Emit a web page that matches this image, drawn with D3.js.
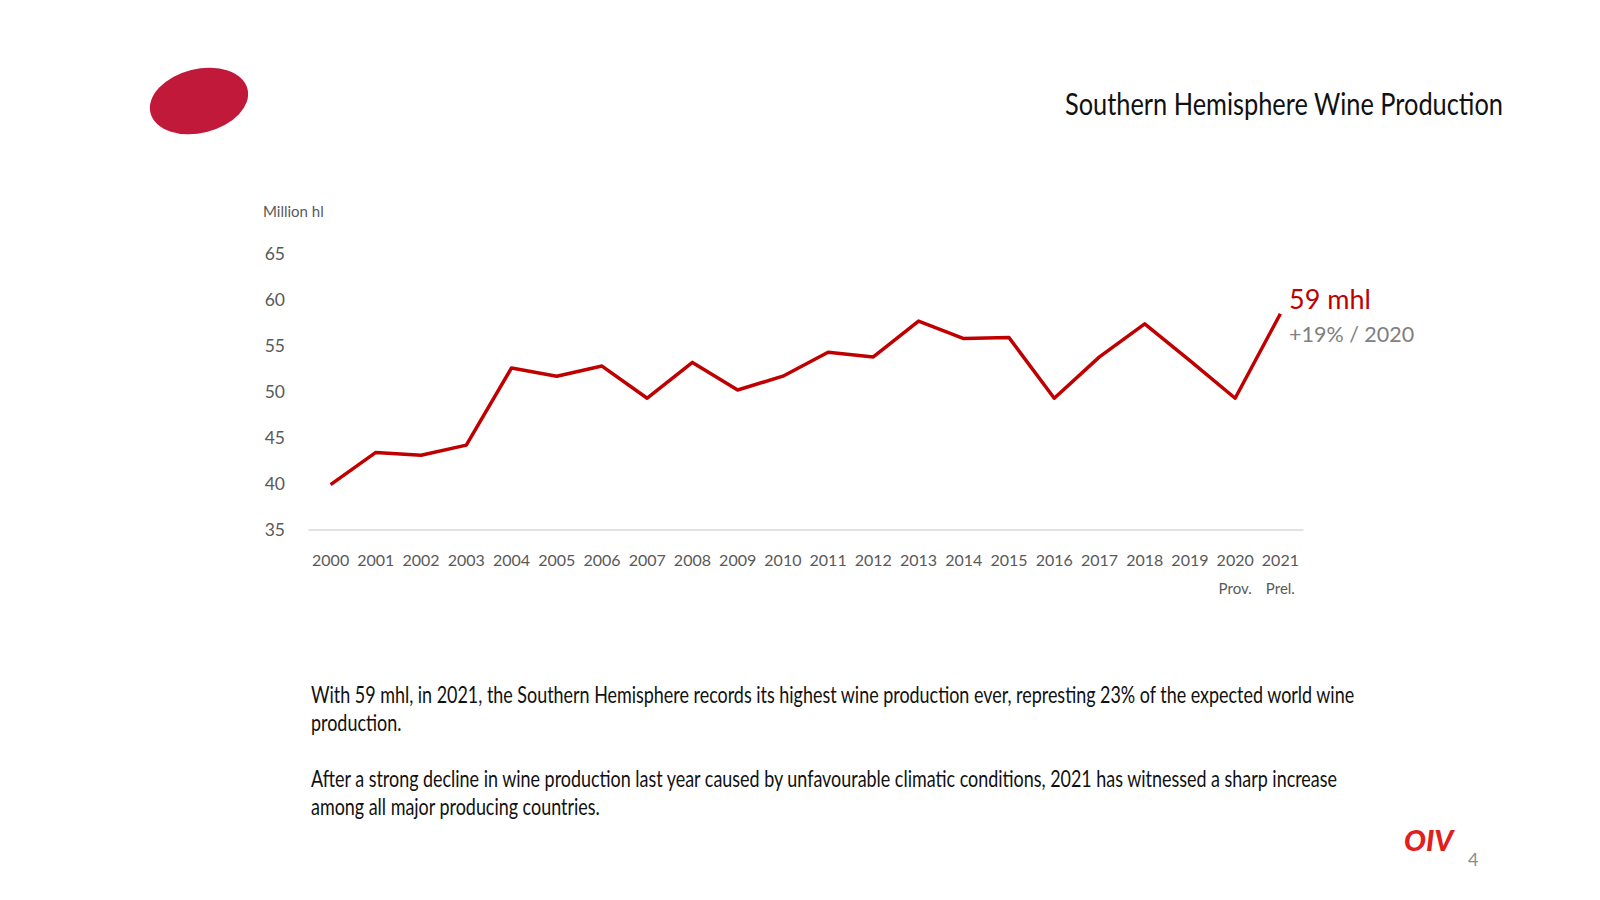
<!DOCTYPE html>
<html>
<head>
<meta charset="utf-8">
<script src="https://cdn.jsdelivr.net/npm/d3@7"></script>
<style>
  body { margin: 0; background: #fff; }
  svg { display: block; font-family: Lato, "Open Sans", sans-serif; }
</style>
</head>
<body>
<div id="chart"></div>
<script>
// Southern Hemisphere wine production, million hl
const years = ["2000","2001","2002","2003","2004","2005","2006","2007","2008","2009","2010",
  "2011","2012","2013","2014","2015","2016","2017","2018","2019","2020","2021"];
const production = [39.9, 43.4, 43.1, 44.2, 52.6, 51.7, 52.8, 49.3, 53.2, 50.2, 51.7,
  54.3, 53.8, 57.7, 55.8, 55.9, 49.3, 53.8, 57.4, 53.4, 49.3, 58.5];
const yTicks = [35, 40, 45, 50, 55, 60, 65];
const yearNotes = { "2020": "Prov.", "2021": "Prel." };
const bodyLines = [
  "With 59 mhl, in 2021, the Southern Hemisphere records its highest wine production ever, represting 23% of the expected world wine",
  "production.",
  "After a strong decline in wine production last year caused by unfavourable climatic conditions, 2021 has witnessed a sharp increase",
  "among all major producing countries."
];
const bodyBaselines = [703, 731.5, 787, 815];

const width = 1600;
const height = 900;

const svg = d3.select("#chart")
  .append("svg")
  .attr("width", width)
  .attr("height", height);

// logo blob top left
svg.append("ellipse")
  .attr("cx", 199)
  .attr("cy", 101)
  .attr("rx", 50)
  .attr("ry", 32)
  .attr("transform", "rotate(-14,199,101)")
  .attr("fill", "#C1193A");

svg.append("text")
  .attr("x", 1503)
  .attr("y", 115)
  .attr("text-anchor", "end")
  .attr("font-size", 30)
  .attr("fill", "#111")
  .attr("textLength", 438)
  .attr("lengthAdjust", "spacingAndGlyphs")
  .text("Southern Hemisphere Wine Production");

// scales
const x = d3.scaleBand()
  .domain(years)
  .range([308, 1303]);

const y = d3.scaleLinear()
  .domain([35, 65])
  .range([529.6, 254]);

// y labels (no axis line)
const yAxis = svg.append("g")
  .attr("transform", "translate(285,0)")
  .call(d3.axisLeft(y).tickValues(yTicks).tickSize(0).tickPadding(0));
yAxis.select(".domain").remove();
yAxis.selectAll("text")
  .attr("font-family", "Lato, sans-serif")
  .attr("font-size", 17.5)
  .attr("fill", "#595959");

svg.append("text")
  .attr("x", 263)
  .attr("y", 217)
  .attr("font-size", 15)
  .attr("fill", "#595959")
  .text("Million hl");

// x axis
const xAxis = svg.append("g")
  .attr("transform", `translate(0,${y(35)})`)
  .call(d3.axisBottom(x).tickSize(0).tickPadding(25));
xAxis.select(".domain").attr("stroke", "#d9d9d9").attr("stroke-width", 1.5);
xAxis.selectAll("text")
  .attr("font-family", "Lato, sans-serif")
  .attr("font-size", 16)
  .attr("fill", "#595959");

svg.append("g")
  .selectAll("text")
  .data(Object.keys(yearNotes))
  .enter()
  .append("text")
  .attr("x", d => x(d) + x.bandwidth() / 2)
  .attr("y", 594)
  .attr("text-anchor", "middle")
  .attr("font-size", 15)
  .attr("fill", "#595959")
  .text(d => yearNotes[d]);

// the line
const line = d3.line()
  .x((d, i) => x(years[i]) + x.bandwidth() / 2)
  .y(d => y(d));

svg.append("path")
  .datum(production)
  .attr("d", line)
  .attr("fill", "none")
  .attr("stroke", "#C00000")
  .attr("stroke-width", 3.5)
  .attr("stroke-linejoin", "round");

// end annotation
svg.append("text")
  .attr("x", 1289)
  .attr("y", 309)
  .attr("font-size", 27)
  .attr("fill", "#C00000")
  .text("59 mhl");

svg.append("text")
  .attr("x", 1289)
  .attr("y", 342)
  .attr("font-size", 21.5)
  .attr("fill", "#808080")
  .text("+19% / 2020");

// commentary, squeezed horizontally so the first line spans the same width as in the slide
const bodyG = svg.append("g");
const body = bodyG.selectAll("text")
  .data(bodyLines)
  .enter()
  .append("text")
  .attr("x", 0)
  .attr("y", (d, i) => bodyBaselines[i])
  .attr("font-size", 22.5)
  .attr("fill", "#111")
  .text(d => d);

const squeeze = 1044 / body.node().getComputedTextLength();
bodyG.attr("transform", `translate(311,0) scale(${squeeze},1)`);

// footer
svg.append("text")
  .attr("x", 1404)
  .attr("y", 851)
  .attr("font-size", 29)
  .attr("font-weight", 900)
  .attr("font-style", "italic")
  .attr("fill", "#E0201B")
  .text("OIV");

svg.append("text")
  .attr("x", 1468)
  .attr("y", 866)
  .attr("font-size", 18)
  .attr("fill", "#8c8c8c")
  .text("4");
</script>
</body>
</html>
